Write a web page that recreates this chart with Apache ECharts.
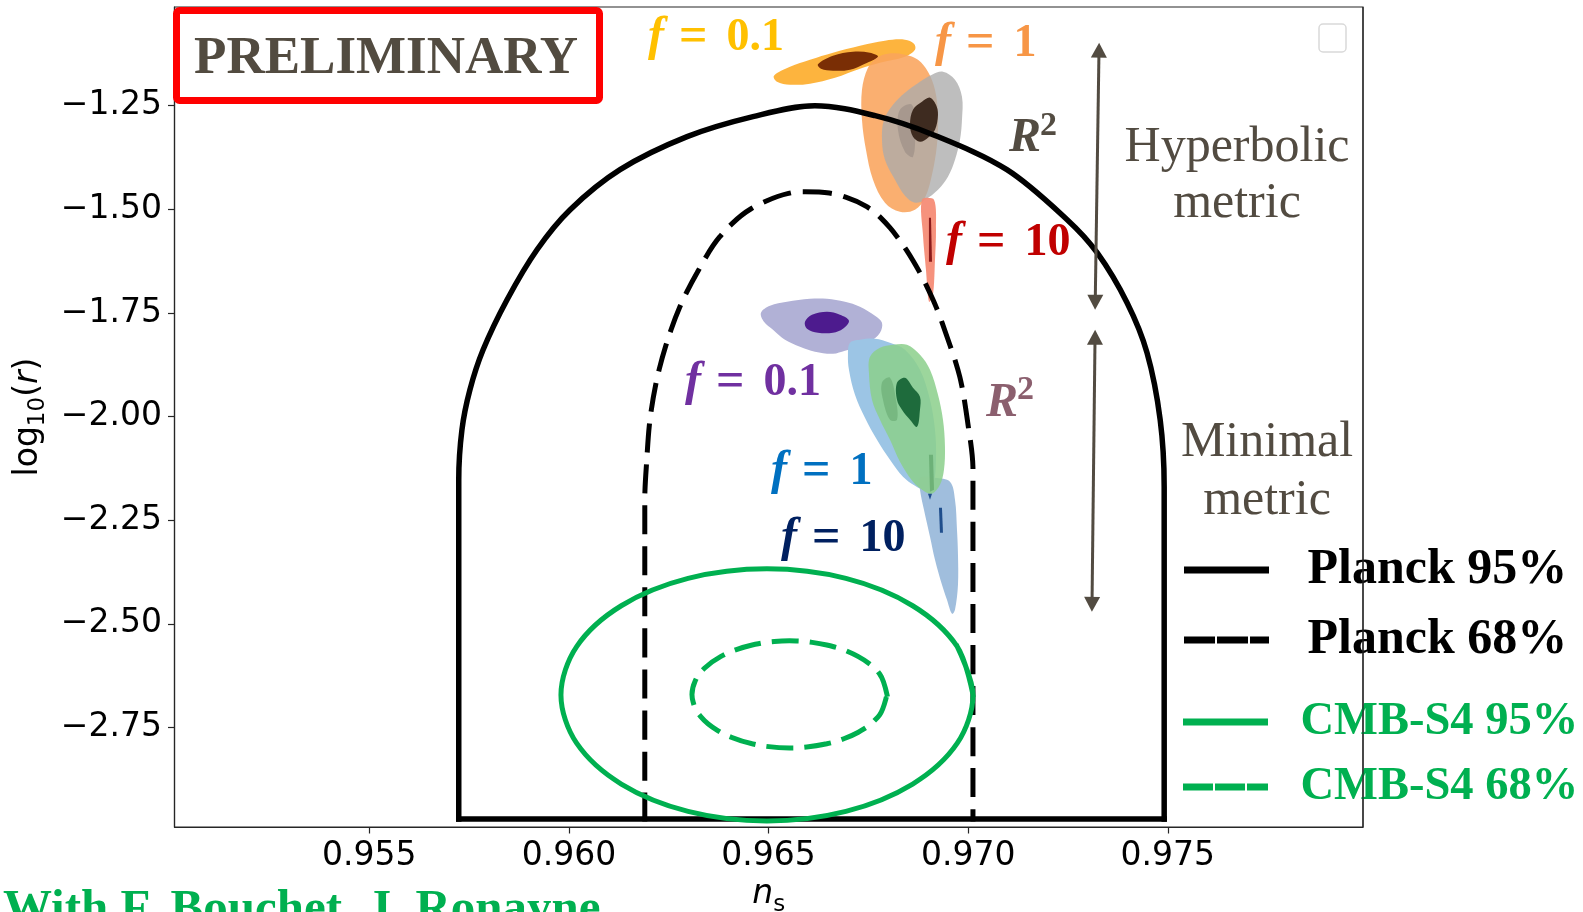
<!DOCTYPE html>
<html><head><meta charset="utf-8">
<script src="https://cdn.jsdelivr.net/npm/echarts@6/dist/echarts.min.js"></script>
<style>html,body{margin:0;padding:0;background:#fff}#c{width:1583px;height:912px}</style>
</head><body><div id="c"></div>
<script>
// ---- axes ----
const xRange = [0.95012, 0.97989];
const yRange = [-2.990, -1.012];
const xTicks = [0.955, 0.960, 0.965, 0.970, 0.975];
const yTicks = [-2.75, -2.50, -2.25, -2.00, -1.75, -1.50, -1.25];

// ---- Planck / CMB-S4 contours (ns, log10 r) ----
const planck95Arch = [[0.95724,-2.9705],[0.95724,-2.1525],[0.95732,-2.0318],[0.95752,-1.9353],[0.95785,-1.8388],[0.95845,-1.7181],[0.95920,-1.5975],[0.96003,-1.5010],[0.96128,-1.4044],[0.96296,-1.3248],[0.96461,-1.2765],[0.96616,-1.2500],[0.96767,-1.2741],[0.96912,-1.3200],[0.97097,-1.4044],[0.97248,-1.5251],[0.97323,-1.6047],[0.97398,-1.7254],[0.97448,-1.8460],[0.97481,-2.0077],[0.97491,-2.1694],[0.97491,-2.9705]];
const planck95Base = [[0.95724,-2.9705],[0.97491,-2.9705]];
const planck68 = [[0.96190,-2.9705],[0.96190,-2.2008],[0.96195,-2.1042],[0.96203,-2.0077],[0.96220,-1.9112],[0.96245,-1.8219],[0.96278,-1.7350],[0.96321,-1.6530],[0.96378,-1.5661],[0.96461,-1.4961],[0.96586,-1.4575],[0.96661,-1.4624],[0.96746,-1.4937],[0.96804,-1.5444],[0.96862,-1.6240],[0.96912,-1.7181],[0.96947,-1.8074],[0.96979,-1.9040],[0.96999,-2.0150],[0.97012,-2.1284],[0.97012,-2.9705]];
const cmbS4_95 = [[0.970121,-2.671316],[0.969727,-2.554763],[0.968610,-2.456308],[0.966937,-2.390431],[0.964960,-2.367265],[0.962984,-2.390431],[0.961311,-2.456308],[0.960193,-2.554763],[0.959800,-2.671316],[0.960193,-2.787868],[0.961311,-2.886323],[0.962984,-2.952200],[0.964960,-2.975366],[0.966937,-2.952200],[0.968610,-2.886323],[0.969727,-2.787868],[0.970121,-2.671316],[0.969727,-2.554763]];
const cmbS4_68 = [[0.967966,-2.670109],[0.967781,-2.620640],[0.967250,-2.578894],[0.966458,-2.550902],[0.965524,-2.541008],[0.964590,-2.550902],[0.963798,-2.578894],[0.963267,-2.620640],[0.963082,-2.670109],[0.963267,-2.719578],[0.963798,-2.761324],[0.964590,-2.789316],[0.965524,-2.799210],[0.966458,-2.789316],[0.967250,-2.761324],[0.967781,-2.719578],[0.967966,-2.670109]];

// ---- hyperbolic metric posteriors ----
const hypF01Outer = [[0.965136,-1.177607],[0.965537,-1.155889],[0.966038,-1.138997],[0.966614,-1.122105],[0.967290,-1.105214],[0.967916,-1.093148],[0.968417,-1.090735],[0.968643,-1.100387],[0.968668,-1.114866],[0.968417,-1.131758],[0.967791,-1.146236],[0.967290,-1.160715],[0.966664,-1.182433],[0.966038,-1.196911],[0.965537,-1.199325],[0.965211,-1.192085]];
const hypF01Inner = [[0.966238,-1.150000],[0.966614,-1.129345],[0.967115,-1.119692],[0.967541,-1.122105],[0.967741,-1.131758],[0.967415,-1.148649],[0.967040,-1.163128],[0.966614,-1.165541],[0.966313,-1.160715]];
const hypF1Outer = [[0.967991,-1.124518],[0.968417,-1.126932],[0.968743,-1.138997],[0.968993,-1.167954],[0.969169,-1.211390],[0.969244,-1.271718],[0.969219,-1.344111],[0.969094,-1.416504],[0.968918,-1.472005],[0.968668,-1.500962],[0.968292,-1.505788],[0.967916,-1.484070],[0.967616,-1.428569],[0.967440,-1.356176],[0.967340,-1.283783],[0.967340,-1.211390],[0.967490,-1.158302],[0.967716,-1.134171]];
const hypR2Outer = [[0.969369,-1.167954],[0.969670,-1.187259],[0.969845,-1.228282],[0.969845,-1.283783],[0.969795,-1.332045],[0.969670,-1.380307],[0.969494,-1.421330],[0.969244,-1.452700],[0.968918,-1.476831],[0.968668,-1.484070],[0.968417,-1.467179],[0.968167,-1.428569],[0.967916,-1.380307],[0.967841,-1.332045],[0.967891,-1.283783],[0.968117,-1.247587],[0.968417,-1.218629],[0.968793,-1.192085],[0.969094,-1.175194]];
const hypR2Mid = [[0.968292,-1.259652],[0.968593,-1.247587],[0.968668,-1.307914],[0.968618,-1.373068],[0.968417,-1.361002],[0.968242,-1.307914]];
const hypR2Core = [[0.968618,-1.259652],[0.968843,-1.240347],[0.969044,-1.230695],[0.969194,-1.247587],[0.969244,-1.271718],[0.969169,-1.307914],[0.968993,-1.327219],[0.968793,-1.336871],[0.968618,-1.324806],[0.968543,-1.295849]];
const hypF10Outer = [[0.968843,-1.476831],[0.969144,-1.476831],[0.969194,-1.549224],[0.969169,-1.621617],[0.969119,-1.706076],[0.969018,-1.722967],[0.968943,-1.645748],[0.968868,-1.561290]];
const hypF10Inner = [[0.969018,-1.520267],[0.969069,-1.520267],[0.969094,-1.626443],[0.969018,-1.626443]];

// ---- minimal metric posteriors ----
const minF01Outer = [[0.964810,-1.749511],[0.965036,-1.732620],[0.965461,-1.722967],[0.966038,-1.715728],[0.966463,-1.715728],[0.966914,-1.722967],[0.967290,-1.735033],[0.967666,-1.756751],[0.967841,-1.773642],[0.967791,-1.797773],[0.967541,-1.819491],[0.967290,-1.831557],[0.966914,-1.841209],[0.966614,-1.848448],[0.966163,-1.843622],[0.965787,-1.831557],[0.965411,-1.814665],[0.965111,-1.790534],[0.964885,-1.771229]];
const minF01Inner = [[0.965912,-1.771229],[0.966088,-1.754338],[0.966463,-1.747098],[0.966789,-1.754338],[0.967014,-1.768816],[0.966864,-1.788121],[0.966614,-1.797773],[0.966238,-1.797773],[0.965962,-1.788121]];
const minF1Outer = [[0.967040,-1.821904],[0.967290,-1.814665],[0.967666,-1.812252],[0.968042,-1.821904],[0.968417,-1.838796],[0.968793,-1.887058],[0.969044,-1.959451],[0.969169,-2.031844],[0.969194,-2.104237],[0.969119,-2.164565],[0.968918,-2.176630],[0.968668,-2.166978],[0.968367,-2.145260],[0.968042,-2.104237],[0.967716,-2.055975],[0.967415,-2.002887],[0.967165,-1.947386],[0.967014,-1.887058],[0.966989,-1.850862]];
const minR2Outer = [[0.967515,-1.894297],[0.967541,-1.855688],[0.967791,-1.833970],[0.968117,-1.826731],[0.968467,-1.826731],[0.968793,-1.850862],[0.969044,-1.887058],[0.969244,-1.947386],[0.969369,-2.007713],[0.969419,-2.072867],[0.969394,-2.128368],[0.969294,-2.164565],[0.969094,-2.186282],[0.968918,-2.181456],[0.968618,-2.157325],[0.968292,-2.109063],[0.968042,-2.055975],[0.967791,-2.007713],[0.967591,-1.959451]];
const minR2Mid = [[0.967841,-1.918428],[0.968042,-1.906363],[0.968192,-1.959451],[0.968217,-2.007713],[0.968042,-2.007713],[0.967866,-1.959451]];
const minR2Core = [[0.968217,-1.918428],[0.968417,-1.906363],[0.968618,-1.930494],[0.968793,-1.952212],[0.968793,-1.983582],[0.968718,-2.024605],[0.968543,-2.007713],[0.968342,-1.983582],[0.968217,-1.959451]];
const minR2Strip = [[0.969018,-2.092172],[0.969119,-2.092172],[0.969144,-2.176630],[0.969044,-2.181456]];
const minF10Outer = [[0.968793,-2.147673],[0.969169,-2.147673],[0.969545,-2.157325],[0.969670,-2.200761],[0.969720,-2.273154],[0.969745,-2.333482],[0.969745,-2.405875],[0.969670,-2.466202],[0.969595,-2.475854],[0.969469,-2.442071],[0.969344,-2.405875],[0.969169,-2.345547],[0.969044,-2.290046],[0.968893,-2.224892],[0.968793,-2.176630]];
const minF10Inner = [[0.969269,-2.220066],[0.969344,-2.220066],[0.969369,-2.280393],[0.969294,-2.280393]];
const minF10Dot = [[0.968993,-2.186282],[0.969094,-2.186282],[0.969044,-2.200761]];

// ---- metric arrows [x1, y1, x2, y2] ----
const metricArrows = [[0.97328,-1.0980,0.97318,-1.7423],[0.97318,-1.7905,0.97310,-2.4710]];

const serif = '"Liberation Serif", "DejaVu Serif", serif';
const sans = '"DejaVu Sans", sans-serif';
const GREEN = '#00B050';
const BROWN = '#524B41';

function blob(pts, fill, z, smooth) {
  return {
    type: 'custom', coordinateSystem: 'cartesian2d', silent: true, z: z,
    data: pts, encode: { x: 0, y: 1 },
    renderItem: function (params, api) {
      if (params.dataIndex !== 0) return null;
      return { type: 'polygon', shape: { points: pts.map(function (p) { return api.coord(p); }), smooth: smooth === undefined ? 0.35 : smooth }, style: { fill: fill } };
    }
  };
}
function contour(name, data, color, width, dash, z, smooth) {
  return {
    type: 'line', name: name, data: data, smooth: smooth, symbol: 'none', silent: true, z: z,
    itemStyle: { color: color },
    lineStyle: { color: color, width: width, type: dash || 'solid', cap: 'square' }
  };
}

function mathLabel(x, y, f, num, color) {
  return {
    type: 'text', x: x, y: y, z: 60, silent: true,
    style: {
      text: '{f|' + f + '}{e|=}{n|' + num + '}', fill: color,
      align: 'left', textAlign: 'left', verticalAlign: 'middle', textVerticalAlign: 'middle',
      rich: {
        f: { fontStyle: 'italic', fontWeight: 'bold', fontSize: 48, fontFamily: serif, fill: color },
        e: { fontWeight: 'bold', fontSize: 50, fontFamily: serif, fill: color, padding: [0, 19, 0, 15] },
        n: { fontWeight: 'bold', fontSize: 46, fontFamily: serif, fill: color }
      }
    }
  };
}
function plainText(x, y, text, font, color, align, lineHeight) {
  return {
    type: 'text', x: x, y: y, z: 60, silent: true,
    style: { text: text, font: font, fill: color, align: align || 'left', textAlign: align || 'left',
      verticalAlign: 'middle', textVerticalAlign: 'middle', lineHeight: lineHeight }
  };
}

const chart = echarts.init(document.getElementById('c'));
const option = {
  animation: false,
  backgroundColor: '#ffffff',
  grid: { left: 174.5, right: 220, top: 7, bottom: 85, show: true, borderColor: '#262626', borderWidth: 1.2, containLabel: false, outerBoundsMode: 'none' },
  xAxis: {
    type: 'value', min: xRange[0], max: xRange[1],
    axisLine: { show: true, onZero: false, lineStyle: { color: '#262626', width: 1.2 } },
    axisTick: { show: true, customValues: xTicks, length: 6.5, lineStyle: { color: '#262626', width: 1.2 } },
    axisLabel: { customValues: xTicks, formatter: function (v) { return v.toFixed(3); }, fontSize: 33, fontFamily: sans, color: '#000', margin: 13 },
    splitLine: { show: false },
    name: '{i|n}{s|s}', nameLocation: 'middle', nameGap: 28,
    nameTextStyle: { rich: {
      i: { fontStyle: 'italic', fontSize: 33, fontFamily: sans, color: '#000', lineHeight: 44 },
      s: { fontSize: 23, fontFamily: sans, color: '#000', lineHeight: 24, verticalAlign: 'bottom' }
    } }
  },
  yAxis: {
    type: 'value', min: yRange[0], max: yRange[1],
    axisLine: { show: true, onZero: false, lineStyle: { color: '#262626', width: 1.2 } },
    axisTick: { show: true, customValues: yTicks, length: 6.5, lineStyle: { color: '#262626', width: 1.2 } },
    axisLabel: { customValues: yTicks, formatter: function (v) { return (v < 0 ? '\u2212' : '') + Math.abs(v).toFixed(2); }, fontSize: 33, fontFamily: sans, color: '#000', margin: 12.5 },
    splitLine: { show: false },
    name: '{a|log}{s|10}{a|(}{i|r}{a|)}', nameLocation: 'middle', nameRotate: 90, nameGap: 124,
    nameTextStyle: { rich: {
      a: { fontSize: 33, fontFamily: sans, color: '#000', lineHeight: 44 },
      i: { fontStyle: 'italic', fontSize: 33, fontFamily: sans, color: '#000', lineHeight: 44 },
      s: { fontSize: 23, fontFamily: sans, color: '#000', lineHeight: 24, verticalAlign: 'bottom' }
    } }
  },
  legend: [
    { orient: 'vertical', left: 1184, top: 542, padding: 0, itemWidth: 78, itemHeight: 14, itemGap: 14, selectedMode: false,
      lineStyle: { width: 7 }, itemStyle: { opacity: 0 },
      textStyle: { fontFamily: serif, fontWeight: 'bold', fontSize: 50, lineHeight: 56, color: '#000', padding: [0, 0, 0, 37] },
      data: [ { name: 'Planck 95%' }, { name: 'Planck 68%', lineStyle: { width: 7, type: [24, 9] } } ] },
    { orient: 'vertical', left: 1183, top: 694, padding: 0, itemWidth: 78, itemHeight: 14, itemGap: 9, selectedMode: false,
      lineStyle: { width: 7 }, itemStyle: { opacity: 0 },
      textStyle: { fontFamily: serif, fontWeight: 'bold', fontSize: 46.5, lineHeight: 56, color: GREEN, padding: [0, 0, 0, 31] },
      data: [ { name: 'CMB-S4 95%' }, { name: 'CMB-S4 68%', lineStyle: { width: 7, type: [23, 9] } } ] }
  ],
  series: [
    // hyperbolic metric
    blob(hypF01Outer, 'rgba(253,178,56,0.97)', 2),
    blob(hypF01Inner, '#7A2E05', 3),
    blob(hypF1Outer, 'rgba(249,164,92,0.88)', 4),
    blob(hypR2Outer, 'rgba(172,172,172,0.78)', 5),
    blob(hypR2Mid, 'rgba(140,128,122,0.45)', 6),
    blob(hypR2Core, '#3E2B20', 7),
    blob(hypF10Outer, 'rgba(245,140,118,0.95)', 5, 0.3),
    blob(hypF10Inner, '#8B1A1A', 6, 0),
    // minimal metric
    blob(minF01Outer, '#B1B1D6', 2),
    blob(minF01Inner, '#4D1B8E', 3),
    blob(minF1Outer, '#9CC5E5', 2),
    blob(minF10Outer, '#A0BEDD', 3),
    blob(minR2Outer, 'rgba(140,207,140,0.86)', 4),
    blob(minR2Mid, 'rgba(100,165,110,0.55)', 5),
    blob(minR2Core, '#1E6B3C', 6),
    blob(minR2Strip, 'rgba(95,165,105,0.7)', 5, 0),
    blob(minF10Inner, '#1F4E8C', 6, 0),
    blob(minF10Dot, '#1F4E8C', 6, 0),
    // contours
    contour('Planck 95%', planck95Arch, '#000', 5.5, 'solid', 10, 0.33),
    contour('Planck 95%', planck95Base, '#000', 5.5, 'solid', 10, false),
    contour('Planck 68%', planck68, '#000', 5, [24, 17], 10, 0.33),
    contour('CMB-S4 95%', cmbS4_95, GREEN, 5, 'solid', 10, 0.33),
    contour('CMB-S4 68%', cmbS4_68, GREEN, 5, [22, 16], 10, 0.33),
    // arrows
    {
      type: 'custom', coordinateSystem: 'cartesian2d', silent: true, z: 12,
      data: metricArrows, encode: { x: [0, 2], y: [1, 3] },
      renderItem: function (params, api) {
        const a = api.coord([api.value(0), api.value(1)]);
        const b = api.coord([api.value(2), api.value(3)]);
        const dx = b[0] - a[0], dy = b[1] - a[1], L = Math.hypot(dx, dy);
        const ux = dx / L, uy = dy / L, px = -uy, py = ux, h = 15, w = 8;
        return { type: 'group', children: [
          { type: 'line', shape: { x1: a[0] + ux * h * 0.8, y1: a[1] + uy * h * 0.8, x2: b[0] - ux * h * 0.8, y2: b[1] - uy * h * 0.8 }, style: { stroke: BROWN, lineWidth: 3 } },
          { type: 'polygon', shape: { points: [a, [a[0] + ux * h + px * w, a[1] + uy * h + py * w], [a[0] + ux * h - px * w, a[1] + uy * h - py * w]] }, style: { fill: BROWN } },
          { type: 'polygon', shape: { points: [b, [b[0] - ux * h + px * w, b[1] - uy * h + py * w], [b[0] - ux * h - px * w, b[1] - uy * h - py * w]] }, style: { fill: BROWN } }
        ] };
      }
    }
  ],
  graphic: { elements: [
    { type: 'line', z: 100, silent: true, shape: { x1: 1363, y1: 7, x2: 1363, y2: 827 }, style: { stroke: '#262626', lineWidth: 1.2 } },
    { type: 'rect', z: 50, silent: true, shape: { x: 1319, y: 24, width: 27, height: 28, r: 4 }, style: { fill: '#fff', stroke: '#d9d9d9', lineWidth: 1.5 } },
    { type: 'rect', z: 100, silent: true, shape: { x: 176.5, y: 10.5, width: 423, height: 90, r: 3 }, style: { fill: '#fff', stroke: '#FF0000', lineWidth: 7 } },
    Object.assign(plainText(386, 59, 'PRELIMINARY', 'bold 53px ' + serif, '#524B40', 'center'), { z: 101 }),
    mathLabel(648, 38, 'f', '0.1', '#FFC000'),
    mathLabel(935, 44, 'f', '1', '#F79646'),
    mathLabel(946, 243, 'f', '10', '#C00000'),
    mathLabel(685, 383, 'f', '0.1', '#7030A0'),
    mathLabel(771, 472, 'f', '1', '#0070C0'),
    mathLabel(781, 539, 'f', '10', '#002060'),
    plainText(1009, 139, 'R', 'italic bold 48px ' + serif, '#534C42'),
    plainText(1040, 126, '2', 'bold 34px ' + serif, '#534C42'),
    plainText(986, 403.5, 'R', 'italic bold 48px ' + serif, '#8B5F6E'),
    plainText(1017, 390.5, '2', 'bold 34px ' + serif, '#8B5F6E'),
    plainText(1237, 176, 'Hyperbolic\nmetric', '50px ' + serif, BROWN, 'center', 56),
    plainText(1267, 471.5, 'Minimal\nmetric', '50px ' + serif, BROWN, 'center', 58),
    plainText(3, 910, 'With F. Bouchet, J. Ronayne', 'bold 49px ' + serif, GREEN, 'left')
  ] }
};
chart.setOption(option);
</script>
</body></html>
